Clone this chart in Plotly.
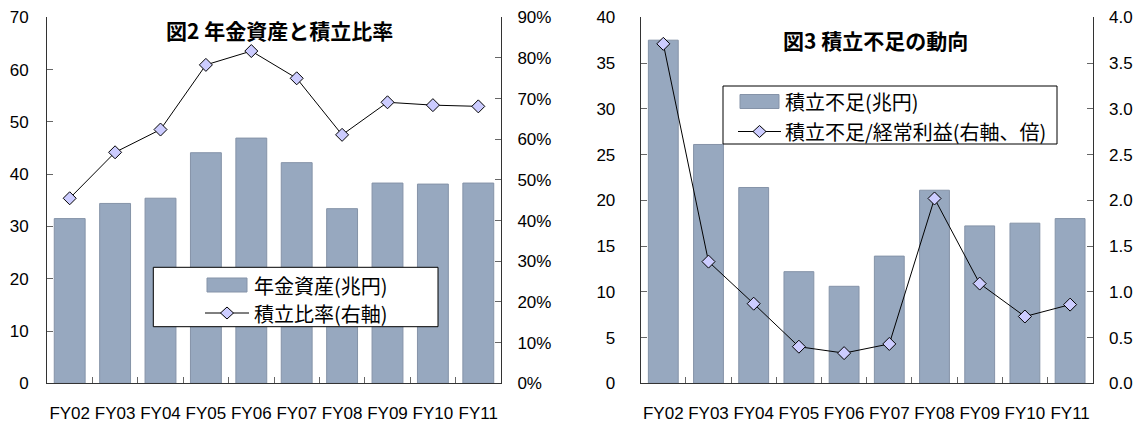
import plotly.graph_objects as go

W, H = 1141, 424

# ---- data -------------------------------------------------------------
years = ["FY02", "FY03", "FY04", "FY05", "FY06", "FY07", "FY08", "FY09", "FY10", "FY11"]

# Fig.2: pension assets (trillion yen) and funding ratio (%, right axis)
pension_assets = [31.5, 34.4, 35.4, 44.1, 46.9, 42.2, 33.4, 38.3, 38.1, 38.3]
funding_ratio = [45.5, 56.8, 62.4, 78.3, 81.7, 75.0, 61.1, 69.1, 68.4, 68.1]

# Fig.3: funding shortfall (trillion yen) and shortfall / recurring profit (times, right axis)
funding_shortfall = [37.5, 26.1, 21.4, 12.2, 10.6, 13.9, 21.1, 17.2, 17.5, 18.0]
shortfall_to_profit = [3.71, 1.33, 0.87, 0.40, 0.33, 0.43, 2.02, 1.09, 0.73, 0.86]

# ---- styling ----------------------------------------------------------
BAR_COLOR = "#97A8BF"
BAR_EDGE = "#8593A8"
MARKER_FILL = "#CCCCFF"
AXIS_COLOR = "#333333"
TICK_COLOR = "#666666"
TICK_FONT = dict(family="Liberation Sans, Arial, sans-serif", size=17, color="#000000")
JP_FONT = "Noto Sans CJK JP, sans-serif"

# plot boxes in pixels
LEFT_X = (47.0, 501.0)
RIGHT_X = (640.7, 1092.7)
PLOT_TOP, PLOT_BOTTOM = 17.3, 383.3


def px(x):
    return x / W


def py(y):
    return 1 - y / H


Y_DOMAIN = [py(PLOT_BOTTOM), py(PLOT_TOP)]

fig = go.Figure()

# ---- Fig.2 traces ------------------------------------------------------
fig.add_trace(go.Bar(
    x=years, y=pension_assets, xaxis="x", yaxis="y", width=0.68,
    marker=dict(color=BAR_COLOR, line=dict(color=BAR_EDGE, width=1)),
    name="年金資産(兆円)", showlegend=False,
))
fig.add_trace(go.Scatter(
    x=years, y=funding_ratio, xaxis="x", yaxis="y2", mode="lines+markers",
    line=dict(color="#000000", width=1),
    marker=dict(symbol="diamond", size=10, color=MARKER_FILL, line=dict(color="#000000", width=1)),
    name="積立比率(右軸)", showlegend=False, cliponaxis=False,
))

# ---- Fig.3 traces ------------------------------------------------------
fig.add_trace(go.Bar(
    x=years, y=funding_shortfall, xaxis="x2", yaxis="y3", width=0.66,
    marker=dict(color=BAR_COLOR, line=dict(color=BAR_EDGE, width=1)),
    name="積立不足(兆円)", showlegend=False,
))
fig.add_trace(go.Scatter(
    x=years, y=shortfall_to_profit, xaxis="x2", yaxis="y4", mode="lines+markers",
    line=dict(color="#000000", width=1),
    marker=dict(symbol="diamond", size=10, color=MARKER_FILL, line=dict(color="#000000", width=1)),
    name="積立不足/経常利益(右軸、倍)", showlegend=False, cliponaxis=False,
))


def x_axis(domain, anchor):
    return dict(
        domain=domain, anchor=anchor, type="category", range=[-0.5, 9.5],
        showline=True, linecolor=AXIS_COLOR, linewidth=1, mirror=False,
        ticks="inside", tickson="boundaries", ticklen=6, tickcolor=TICK_COLOR,
        tickfont=TICK_FONT, tickangle=0, ticklabelstandoff=14, automargin=False,
        showgrid=False, zeroline=False, fixedrange=True,
    )


def y_axis(anchor, rng, dtick, side="left", overlaying=None, standoff=12, **kw):
    d = dict(
        anchor=anchor, range=rng, dtick=dtick, tick0=0, side=side,
        showline=True, linecolor=AXIS_COLOR, linewidth=1,
        ticks="inside", ticklen=6, tickcolor=TICK_COLOR,
        tickfont=TICK_FONT, ticklabelstandoff=standoff, automargin=False,
        showgrid=False, zeroline=False, fixedrange=True,
    )
    if overlaying:
        d["overlaying"] = overlaying
    else:
        d["domain"] = Y_DOMAIN
    d.update(kw)
    return d


fig.update_layout(
    width=W, height=H, autosize=False,
    margin=dict(l=0, r=0, t=0, b=0, pad=0),
    paper_bgcolor="#FFFFFF", plot_bgcolor="rgba(0,0,0,0)",
    showlegend=False, barmode="overlay",
    xaxis=x_axis([px(LEFT_X[0]), px(LEFT_X[1])], "y"),
    yaxis=y_axis("x", [0, 70], 10, standoff=14),
    yaxis2=y_axis("x", [0, 90], 10, side="right", overlaying="y", standoff=12, ticksuffix="%"),
    xaxis2=x_axis([px(RIGHT_X[0]), px(RIGHT_X[1])], "y3"),
    yaxis3=y_axis("x2", [0, 40], 5, standoff=21),
    yaxis4=y_axis("x2", [0, 4], 0.5, side="right", overlaying="y3", standoff=12, tickformat=".1f"),
)

# ---- titles --------------------------------------------------------------
fig.add_annotation(text="<b>図2 年金資産と積立比率</b>", x=px(279), y=py(30), xref="paper", yref="paper",
                   xanchor="center", yanchor="middle", showarrow=False,
                   font=dict(family=JP_FONT, size=21, color="#000000"))
fig.add_annotation(text="<b>図3 積立不足の動向</b>", x=px(875), y=py(40), xref="paper", yref="paper",
                   xanchor="center", yanchor="middle", showarrow=False,
                   font=dict(family=JP_FONT, size=21, color="#000000"))


# ---- legends (boxed, drawn in pixel space) -----------------------------------
def diamond_path(cx, cy, hw=6.5, hh=6.0):
    return (f"M {px(cx)} {py(cy - hh)} L {px(cx + hw)} {py(cy)} "
            f"L {px(cx)} {py(cy + hh)} L {px(cx - hw)} {py(cy)} Z")


def add_legend(box, swatch_x, row1_y, row2_y, text_x, bar_label, line_label):
    x0, y0, x1, y1 = box
    fig.add_shape(type="rect", xref="paper", yref="paper",
                  x0=px(x0), x1=px(x1), y0=py(y1), y1=py(y0),
                  fillcolor="#FFFFFF", line=dict(color="#000000", width=1), layer="above")
    sx0, sx1 = swatch_x
    fig.add_shape(type="rect", xref="paper", yref="paper",
                  x0=px(sx0), x1=px(sx1), y0=py(row1_y + 7), y1=py(row1_y - 7),
                  fillcolor=BAR_COLOR, line=dict(color=BAR_EDGE, width=1), layer="above")
    fig.add_shape(type="line", xref="paper", yref="paper",
                  x0=px(sx0 - 2), x1=px(sx1 + 2), y0=py(row2_y), y1=py(row2_y),
                  line=dict(color="#000000", width=1), layer="above")
    cx = (sx0 + sx1) / 2
    fig.add_shape(type="path", xref="paper", yref="paper", path=diamond_path(cx, row2_y),
                  fillcolor=MARKER_FILL, line=dict(color="#000000", width=1), layer="above")
    for label, yy in ((bar_label, row1_y), (line_label, row2_y)):
        fig.add_annotation(text=label, x=px(text_x), y=py(yy), xref="paper", yref="paper",
                           xanchor="left", yanchor="middle", showarrow=False,
                           font=dict(family=JP_FONT, size=20, color="#000000"))


add_legend((153.3, 267.3, 438.0, 326.7), (207, 247), 285, 313, 252,
           "年金資産(兆円)", "積立比率(右軸)")
add_legend((723.0, 86.0, 1057.0, 144.0), (740, 779), 101.5, 131.5, 783,
           "積立不足(兆円)", "積立不足/経常利益(右軸、倍)")

fig.write_html("out.html", config=dict(displayModeBar=False, staticPlot=True))
